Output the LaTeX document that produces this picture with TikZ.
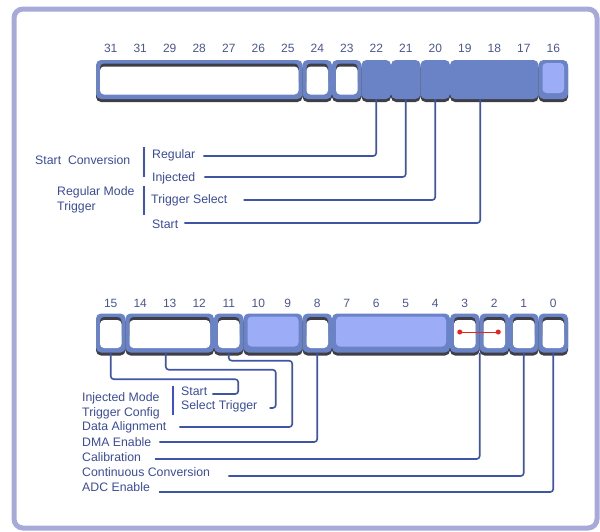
\documentclass[tikz,border=0pt]{standalone}
\usepackage{fontspec}
\setmainfont{Liberation Sans}
\usetikzlibrary{calc,shadows}
\definecolor{framec}{HTML}{A7A9D9}
\definecolor{regblue}{HTML}{6A83C6}
\definecolor{reglight}{HTML}{9DACF6}
\definecolor{regshade}{HTML}{3E3E44}
\definecolor{wirec}{HTML}{3E55A6}
\definecolor{txtc}{HTML}{3A4B9E}
\definecolor{numc}{HTML}{4A5692}
\definecolor{barc}{HTML}{3C4EE0}
\definecolor{linkred}{HTML}{E52421}
\tikzset{
  fld/.style   ={fill=regblue, rounded corners=5pt, minimum height=39pt, inner sep=0pt,
                 drop shadow={shadow xshift=0pt, shadow yshift=-3pt, fill=regshade, opacity=1}},
  dfld/.style  ={fld},
  wfld/.style  ={fld, path picture={
                   \fill[regshade, rounded corners=4pt]
                     ([shift={(4pt,-3.5pt)}]path picture bounding box.north west) rectangle
                     ([shift={(-4pt,14pt)}]path picture bounding box.south east);
                   \fill[white, rounded corners=4pt]
                     ([shift={(4pt,-6.5pt)}]path picture bounding box.north west) rectangle
                     ([shift={(-4pt,4.5pt)}]path picture bounding box.south east);}},
  lfld/.style  ={fld, path picture={
                   \fill[reglight, rounded corners=4pt]
                     ([shift={(4pt,-3pt)}]path picture bounding box.north west) rectangle
                     ([shift={(-4pt,6pt)}]path picture bounding box.south east);}},
  bitno/.style ={font=\fontsize{12}{14}\selectfont, text=numc, inner sep=0pt},
  txt/.style   ={font=\fontsize{12.3}{15}\selectfont, text=txtc, inner sep=0pt, anchor=west, align=left},
  wire/.style  ={draw=wirec, line width=1.6pt, rounded corners=3pt},
  bar/.style   ={draw=barc, line width=2.6pt},
  redlink/.style={draw=linkred, line width=1pt},
  reddot/.style={circle, fill=linkred, inner sep=0pt, minimum size=5pt},
}

\begin{document}
\begin{tikzpicture}[x=1pt,y=-1pt]
  \useasboundingbox (0,0) rectangle (600,531);
  \draw[framec, line width=5pt, rounded corners=9pt] (14,9) rectangle (597,528);

  % upper half of the register
  \foreach \lbl [count=\k from 0] in {31,31,29,28,27,26,25,24,23,22,21,20,19,18,17,16}
    \node[bitno] (t\k) at ({96+(\k+0.5)*29.5},48) {\lbl};
  \foreach \nm/\k/\n/\st in {b31/0/7/wfld, b24/7/1/wfld, b23/8/1/wfld, b22/9/1/dfld,
                             b21/10/1/dfld, b20/11/1/dfld, b19/12/3/dfld, b16/15/1/lfld}
    \node[\st, minimum width=\n*29.5pt] (\nm) at ({96+(\k+\n/2)*29.5},79.5) {};

  \node[txt] (lconv) at (35,160) {Start~ Conversion};
  \node[txt] (lregmode) at (57,199.5) {Regular Mode\\Trigger};
  \node[txt] (lreg) at (152,155) {Regular};
  \node[txt] (linj) at (152,178) {Injected};
  \node[txt] (ltrig) at (151,200) {Trigger Select};
  \node[txt] (lstart) at (152,224) {Start};
  \draw[bar] (144,147) -- (144,177);
  \draw[bar] (144,186) -- (144,215);

  \draw[wire] (b22.south) |- ($(lreg.east)+(8,1)$);
  \draw[wire] (b21.south) |- ($(linj.east)+(9,-1)$);
  \draw[wire] (b20.south) |- ($(ltrig.east)+(16,0)$);
  \draw[wire] ([xshift=-14pt]b19.south) |- ($(lstart.east)+(6,-1)$);

  % lower half of the register
  \foreach \lbl [count=\k from 0] in {15,14,13,12,11,10,9,8,7,6,5,4,3,2,1,0}
    \node[bitno] (u\k) at ({96+(\k+0.5)*29.5},303) {\lbl};
  \foreach \nm/\k/\n/\st in {b15/0/1/wfld, b14/1/3/wfld, b11/4/1/wfld, b10/5/2/lfld, b8/7/1/wfld,
                             b7/8/4/lfld, b3/12/1/wfld, b2/13/1/wfld, b1/14/1/wfld, b0/15/1/wfld}
    \node[\st, minimum width=\n*29.5pt] (\nm) at ({96+(\k+\n/2)*29.5},333) {};

  \node[reddot] (d3) at ([xshift=-5pt,yshift=1pt]b3.center) {};
  \node[reddot] (d2) at ([xshift=4pt,yshift=1pt]b2.center) {};
  \draw[redlink] (d3) -- (d2);

  \node[txt] (linjmode) at (82,405.5) {Injected Mode\\Trigger Config};
  \node[txt] (lstart2) at (181,391) {Start};
  \node[txt] (lsel) at (181,406) {Select Trigger};
  \node[txt] (ldata) at (82,427) {Data Alignment};
  \node[txt] (ldma) at (82,442) {DMA Enable};
  \node[txt] (lcal) at (82,457.5) {Calibration};
  \node[txt] (lcont) at (82,472) {Continuous Conversion};
  \node[txt] (ladc) at (82,487) {ADC Enable};
  \draw[bar] (173,386) -- (173,415);

  \draw[wire] (b15.south) -- ++(0,26.5) -- ++(127.5,0) |- ($(lstart2.east)+(5,3)$);
  \draw[wire] ([xshift=-4pt]b14.south) -- ++(0,17) -- ++(110,0) |- ($(lsel.east)+(12,2)$);
  \draw[wire] (b11.south) -- ++(0,8) -- ++(63.5,0) |- ($(ldata.east)+(13,0)$);
  \draw[wire] (b8.south) |- ($(ldma.east)+(8,0)$);
  \draw[wire] (b3.south east) |- ($(lcal.east)+(14,1.5)$);
  \draw[wire] (b1.south) |- ($(lcont.east)+(18,4)$);
  \draw[wire] (b0.south) |- ($(ladc.east)+(9,5)$);
\end{tikzpicture}
\end{document}
